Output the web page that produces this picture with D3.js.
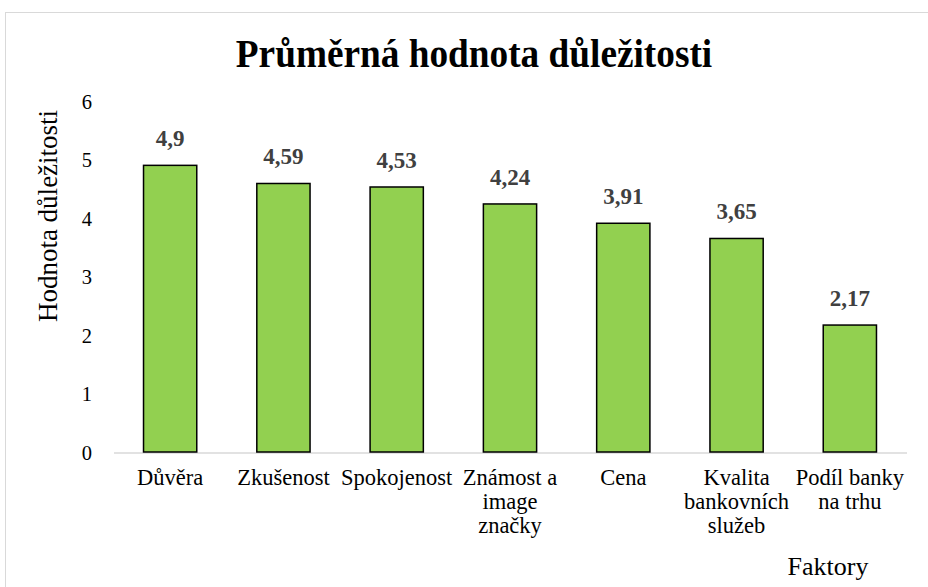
<!DOCTYPE html>
<html><head><meta charset="utf-8">
<script src="https://cdn.jsdelivr.net/npm/d3@7"></script>
<style>body{margin:0;background:#fff}svg{display:block}</style>
</head><body>
<script>
const categories = [["Důvěra"],["Zkušenost"],["Spokojenost"],["Známost a","image","značky"],["Cena"],["Kvalita","bankovních","služeb"],["Podíl banky","na trhu"]];
const values = [4.9, 4.59, 4.53, 4.24, 3.91, 3.65, 2.17];
const valueLabels = ["4,9","4,59","4,53","4,24","3,91","3,65","2,17"];
const yTicks = [0,1,2,3,4,5,6];
const title = "Průměrná hodnota důležitosti";
const yTitle = "Hodnota důležitosti";
const xTitle = "Faktory";

const W = 928, H = 587;
const svg = d3.select("body").append("svg").attr("width", W).attr("height", H);
const serif = "'Liberation Serif','Times New Roman',serif";

svg.append("rect").attr("x",5.5).attr("y",12.5).attr("width",W).attr("height",H)
  .attr("fill","#fff").attr("stroke","#d9d9d9");

const x = d3.scaleBand().domain(d3.range(values.length)).range([113.5, 906.5]).paddingInner(0.53).paddingOuter(0.265);
const y = d3.scaleLinear().domain([0,6]).range([452, 101]);

svg.append("text").attr("transform","translate(474,67) scale(1,1.1)").attr("text-anchor","middle")
  .attr("font-family",serif).attr("font-weight","bold").attr("font-size",37.3).attr("fill","#000").text(title);

// y axis ticks (no line)
const yAxis = d3.axisLeft(y).tickValues(yTicks).tickSize(0).tickPadding(0).tickFormat(d3.format("d"));
const gy = svg.append("g").attr("transform","translate(92,0)").call(yAxis);
gy.select(".domain").remove();
gy.selectAll("text").attr("font-family",serif).attr("font-size",20.5).attr("fill","#000").attr("dy","0.35em");

// x axis
const xAxis = d3.axisBottom(x).tickSize(0).tickFormat("");
const gx = svg.append("g").attr("transform",`translate(0,${y(0)+0.5})`).call(xAxis);
gx.select(".domain").attr("stroke","#d9d9d9").attr("stroke-width",1.5);

// bars
svg.append("g").selectAll("rect").data(values).join("rect")
  .attr("x",(d,i)=>x(i)).attr("y",d=>y(d)).attr("width",x.bandwidth()).attr("height",d=>y(0)-y(d))
  .attr("fill","#92d050").attr("stroke","#000").attr("stroke-width",1.5);

// value labels
svg.append("g").selectAll("text").data(values).join("text")
  .attr("x",(d,i)=>x(i)+x.bandwidth()/2).attr("y",d=>y(d)-19)
  .attr("text-anchor","middle").attr("font-family",serif).attr("font-weight","bold")
  .attr("font-size",23).attr("fill","#404040").text((d,i)=>valueLabels[i]);

// category labels
const cl = svg.append("g").selectAll("text").data(categories).join("text")
  .attr("x",(d,i)=>x(i)+x.bandwidth()/2).attr("y",485)
  .attr("text-anchor","middle").attr("font-family",serif).attr("font-size",22.5).attr("fill","#000");
cl.each(function(lines){
  const t = d3.select(this), cx = t.attr("x");
  lines.forEach((ln,j)=>t.append("tspan").attr("x",cx).attr("dy", j===0?0:24).text(ln));
});

// axis titles
svg.append("text").attr("transform","translate(57,216) rotate(-90)").attr("text-anchor","middle")
  .attr("font-family",serif).attr("font-size",27).attr("fill","#000").text(yTitle);
svg.append("text").attr("x",828).attr("y",575).attr("text-anchor","middle")
  .attr("font-family",serif).attr("font-size",26).attr("fill","#000").text(xTitle);
</script>
</body></html>
